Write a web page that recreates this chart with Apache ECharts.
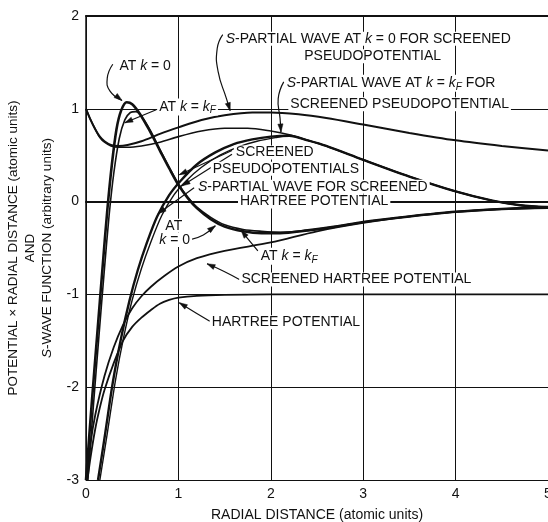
<!DOCTYPE html>
<html>
<head>
<meta charset="utf-8">
<script src="https://cdn.jsdelivr.net/npm/echarts@6/dist/echarts.min.js"></script>
<style>
  html, body { margin: 0; padding: 0; background: #fff; }
  #chart { width: 548px; height: 522px; }
</style>
</head>
<body>
<div id="chart"></div>
<script>
// r·V(r) curves and s-wave functions, radial distance in atomic units
const hartreePotential = [
  [0.015,-3.0],[0.05,-2.75],[0.1,-2.45],[0.15,-2.22],[0.2,-2.03],[0.3,-1.74],[0.4,-1.5],
  [0.5,-1.35],[0.6,-1.25],[0.7,-1.17],[0.8,-1.1],[0.9,-1.06],[1.0,-1.035],[1.2,-1.015],
  [1.5,-1.005],[2,-1.0],[3,-1.0],[4,-1.0],[5,-1.0]
];
const screenedHartree = [
  [0.01,-3.0],[0.05,-2.6],[0.1,-2.3],[0.2,-1.88],[0.3,-1.57],[0.4,-1.33],[0.5,-1.15],
  [0.6,-1.02],[0.7,-0.92],[0.85,-0.8],[1.0,-0.7],[1.2,-0.61],[1.5,-0.53],[2.0,-0.44],
  [2.5,-0.32],[3.0,-0.23],[3.5,-0.16],[4.0,-0.11],[4.5,-0.08],[5.0,-0.07]
];
const hartreeWaveK0 = [
  [0.0,-3.0],[0.06,-2.2],[0.12,-1.45],[0.18,-0.7],[0.23,-0.1],[0.28,0.4],[0.33,0.78],
  [0.38,0.98],[0.44,1.07],[0.5,1.05],[0.58,0.95],[0.68,0.78],[0.8,0.55],[0.9,0.36],
  [1.0,0.18],[1.1,0.04],[1.2,-0.07],[1.35,-0.19],[1.5,-0.27],[1.7,-0.32],[1.9,-0.34],
  [2.1,-0.34],[2.4,-0.31],[2.7,-0.27],[3.0,-0.22],[3.5,-0.16],[4.0,-0.11],[4.5,-0.08],[5.0,-0.06]
];
const hartreeWaveKF = [
  [0.02,-3.0],[0.08,-2.2],[0.14,-1.45],[0.2,-0.72],[0.25,-0.15],[0.3,0.3],[0.36,0.68],
  [0.42,0.88],[0.48,0.96],[0.54,0.97],[0.6,0.92],[0.7,0.76],[0.8,0.56],[0.9,0.37],
  [1.0,0.19],[1.1,0.05],[1.2,-0.06],[1.35,-0.17],[1.5,-0.25],[1.7,-0.3],[1.9,-0.32],
  [2.1,-0.33],[2.4,-0.31],[2.7,-0.27],[3.0,-0.22],[3.5,-0.16],[4.0,-0.11],[4.5,-0.08],[5.0,-0.06]
];
const pseudoWaveK0 = [
  [0,1.0],[0.05,0.88],[0.1,0.78],[0.15,0.7],[0.2,0.65],[0.27,0.61],[0.35,0.6],[0.45,0.61],
  [0.6,0.65],[0.8,0.73],[1.0,0.8],[1.25,0.88],[1.5,0.93],[1.8,0.96],[2.0,0.96],[2.3,0.94],
  [2.6,0.9],[3.0,0.83],[3.5,0.74],[4.0,0.66],[4.5,0.6],[5.0,0.55]
];
const pseudoWaveKF = [
  [0,1.0],[0.05,0.88],[0.1,0.78],[0.15,0.69],[0.2,0.64],[0.27,0.6],[0.35,0.585],[0.45,0.585],
  [0.6,0.6],[0.8,0.64],[1.0,0.7],[1.25,0.76],[1.5,0.79],[1.75,0.79],[2.0,0.76],[2.2,0.72],
  [2.4,0.66],[2.6,0.6],[3.0,0.45],[3.5,0.27],[4.0,0.11],[4.4,0.01],[4.7,-0.04],[5.0,-0.06]
];
const screenedPseudoK0 = [
  [0.13,-3.0],[0.2,-2.55],[0.29,-1.95],[0.38,-1.47],[0.47,-1.07],[0.56,-0.74],[0.66,-0.44],
  [0.77,-0.16],[0.9,0.07],[1.02,0.22],[1.2,0.4],[1.4,0.53],[1.6,0.62],[1.8,0.67],[2.0,0.7],
  [2.2,0.71],[2.4,0.66],[2.6,0.6],[3.0,0.45],[3.5,0.27],[4.0,0.11],[4.4,0.01],[4.7,-0.04],[5.0,-0.06]
];
const screenedPseudoKF = [
  [0.15,-3.0],[0.23,-2.5],[0.32,-1.92],[0.41,-1.45],[0.5,-1.06],[0.6,-0.72],[0.7,-0.44],
  [0.82,-0.15],[0.95,0.07],[1.08,0.22],[1.25,0.37],[1.45,0.5],[1.65,0.59],[1.85,0.65],
  [2.05,0.69],[2.2,0.71],[2.4,0.66],[2.6,0.6],[3.0,0.45],[3.5,0.27],[4.0,0.11],[4.4,0.01],[4.7,-0.04],[5.0,-0.06]
];

// annotation text (rich markup: i = italic, s = subscript) and anchor in data units
const annotations = [
  { text: 'AT {i|k} = 0', at: [0.34, 1.46] },
  { text: 'AT {i|k} = {i|k}{s|F}', at: [0.77, 1.02] },
  { text: '{i|S}-PARTIAL WAVE AT {i|k} = 0 FOR SCREENED', at: [1.49, 1.755] },
  { text: 'PSEUDOPOTENTIAL', at: [2.34, 1.565] },
  { text: '{i|S}-PARTIAL WAVE AT {i|k} = {i|k}{s|F} FOR', at: [2.15, 1.275] },
  { text: 'SCREENED PSEUDOPOTENTIAL', at: [2.19, 1.05] },
  { text: 'SCREENED', at: [1.6, 0.53] },
  { text: 'PSEUDOPOTENTIALS', at: [1.35, 0.355] },
  { text: '{i|S}-PARTIAL WAVE FOR SCREENED', at: [1.19, 0.16] },
  { text: 'HARTREE POTENTIAL', at: [1.645, 0.0] },
  { text: 'AT', at: [0.95, -0.26], align: 'center' },
  { text: '{i|k} = 0', at: [0.96, -0.415], align: 'center' },
  { text: 'AT {i|k} = {i|k}{s|F}', at: [1.87, -0.59] },
  { text: 'SCREENED HARTREE POTENTIAL', at: [1.66, -0.84] },
  { text: 'HARTREE POTENTIAL', at: [1.34, -1.3] }
];

// leader arrows, tail first, head last (data units)
const leaders = [
  [[0.29,1.48],[0.23,1.33],[0.26,1.19],[0.39,1.09]],
  [[0.76,0.99],[0.42,0.85]],
  [[1.48,1.8],[1.42,1.65],[1.43,1.4],[1.52,1.11],[1.56,0.98]],
  [[2.14,1.29],[2.08,1.11],[2.1,0.9],[2.11,0.75]],
  [[1.58,0.55],[1.01,0.29]],
  [[1.58,0.51],[1.04,0.17]],
  [[1.17,0.15],[0.78,-0.13]],
  [[1.13,-0.41],[1.27,-0.36],[1.4,-0.26]],
  [[1.86,-0.53],[1.75,-0.4],[1.68,-0.31]],
  [[1.66,-0.84],[1.49,-0.75],[1.31,-0.67]],
  [[1.34,-1.29],[1.19,-1.2],[1.01,-1.09]]
];

const FONT = "'Liberation Sans', Arial, sans-serif";
const INK = '#111';
const LABEL_SIZE = 14;
const rich = {
  i: { fontStyle: 'italic', fontSize: LABEL_SIZE, fontFamily: FONT, fill: INK, color: INK },
  s: { fontStyle: 'italic', fontSize: 10, fontFamily: FONT, fill: INK, color: INK, padding: [7, 0, 0, 0] }
};

const chart = echarts.init(document.getElementById('chart'), null, { renderer: 'canvas' });

function curve(data, width) {
  return {
    type: 'line', data: data, showSymbol: false, smooth: 0.3, silent: true,
    lineStyle: { color: INK, width: width }, z: 3
  };
}

chart.setOption({
  animation: false,
  backgroundColor: '#fff',
  grid: { left: 86, right: 0, top: 16, bottom: 42, containLabel: false, outerBoundsMode: 'none' },
  xAxis: [{
    type: 'value', min: 0, max: 5, interval: 1,
    name: 'RADIAL DISTANCE (atomic units)', nameLocation: 'middle', nameGap: 28,
    nameTextStyle: { fontFamily: FONT, fontSize: 14, color: INK },
    axisLine: { show: true, lineStyle: { color: INK, width: 2 } },
    axisTick: { show: false },
    axisLabel: { fontFamily: FONT, fontSize: 14, color: INK, margin: 7 },
    splitLine: { show: true, lineStyle: { color: INK, width: 1 } }
  }, {
    type: 'value', min: 0, max: 5, position: 'top',
    axisLine: { show: true, lineStyle: { color: INK, width: 2 } },
    axisTick: { show: false }, axisLabel: { show: false }, splitLine: { show: false }
  }],
  yAxis: {
    type: 'value', min: -3, max: 2, interval: 1,
    name: 'POTENTIAL × RADIAL DISTANCE (atomic units)\nAND\n{i|S}-WAVE FUNCTION (arbitrary units)',
    nameLocation: 'middle', nameGap: 28, nameRotate: 90,
    nameTextStyle: {
      fontFamily: FONT, fontSize: 13.5, color: INK, lineHeight: 17,
      rich: { i: { fontStyle: 'italic', fontSize: 13.5, fontFamily: FONT, color: INK, lineHeight: 17 } }
    },
    axisLine: { show: true, lineStyle: { color: INK, width: 1.5 } },
    axisTick: { show: false },
    axisLabel: { fontFamily: FONT, fontSize: 14, color: INK, margin: 7 },
    splitLine: { show: true, lineStyle: { color: INK, width: 1 } }
  },
  series: [
    curve(hartreePotential, 1.8),
    curve(screenedHartree, 1.8),
    curve(hartreeWaveK0, 2.6),
    curve(hartreeWaveKF, 1.6),
    curve(pseudoWaveK0, 2),
    curve(pseudoWaveKF, 1.6),
    curve(screenedPseudoK0, 2.4),
    curve(screenedPseudoKF, 1.4)
  ]
});

// annotations and leader arrows placed through the axis scales
function px(p) { return chart.convertToPixel({ xAxisIndex: 0, yAxisIndex: 0 }, p); }

const elements = [];
annotations.forEach(function (a) {
  const p = px(a.at);
  elements.push({
    type: 'text', x: p[0], y: p[1], z: 5,
    style: {
      text: a.text, rich: rich,
      fontFamily: FONT, fontSize: LABEL_SIZE, fill: INK,
      textAlign: a.align || 'left', align: a.align || 'left',
      textVerticalAlign: 'middle', verticalAlign: 'middle',
      backgroundColor: '#fff', padding: [0, 2]
    }
  });
});
leaders.forEach(function (path) {
  const pts = path.map(px);
  elements.push({
    type: 'polyline', z: 4,
    shape: { points: pts, smooth: pts.length > 2 ? 0.5 : 0 },
    style: { stroke: INK, lineWidth: 1.2, fill: null }
  });
  const h = pts[pts.length - 1], t = pts[pts.length - 2];
  const dx = h[0] - t[0], dy = h[1] - t[1];
  const len = Math.sqrt(dx * dx + dy * dy) || 1;
  const ux = dx / len, uy = dy / len;
  const L = 8, W = 2.6;
  elements.push({
    type: 'polygon', z: 4,
    shape: { points: [
      [h[0], h[1]],
      [h[0] - ux * L - uy * W, h[1] - uy * L + ux * W],
      [h[0] - ux * L + uy * W, h[1] - uy * L - ux * W]
    ] },
    style: { fill: INK, stroke: INK, lineWidth: 0.5 }
  });
});
chart.setOption({ graphic: { elements: elements } });
</script>
</body>
</html>
